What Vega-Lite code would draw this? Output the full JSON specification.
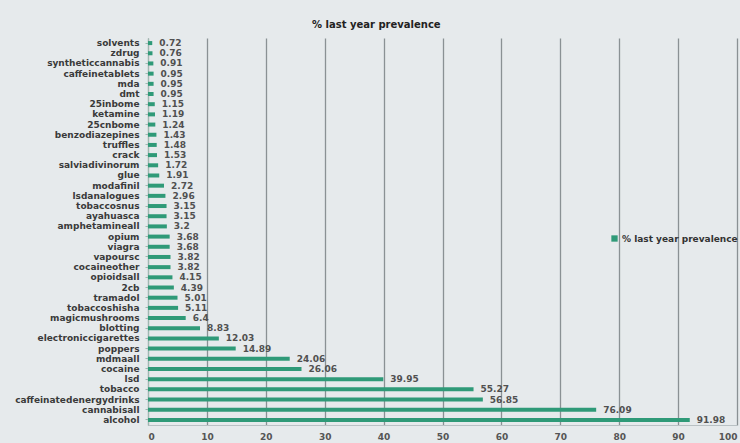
{
  "$schema": "https://vega.github.io/schema/vega-lite/v6.json",
  "width": 589,
  "height": 387,
  "autosize": {"type": "none"},
  "padding": {"left": 148, "top": 38, "right": 3, "bottom": 18},
  "background": "#e6eaec",
  "title": {"text": "% last year prevalence", "frame": "bounds", "anchor": "middle", "fontSize": 10, "font": "DejaVu Sans", "fontWeight": "bold", "color": "#222", "offset": 8},
  "data": {"values": [
    {"drug": "solvents", "value": 0.72},
    {"drug": "zdrug", "value": 0.76},
    {"drug": "syntheticcannabis", "value": 0.91},
    {"drug": "caffeinetablets", "value": 0.95},
    {"drug": "mda", "value": 0.95},
    {"drug": "dmt", "value": 0.95},
    {"drug": "25inbome", "value": 1.15},
    {"drug": "ketamine", "value": 1.19},
    {"drug": "25cnbome", "value": 1.24},
    {"drug": "benzodiazepines", "value": 1.43},
    {"drug": "truffles", "value": 1.48},
    {"drug": "crack", "value": 1.53},
    {"drug": "salviadivinorum", "value": 1.72},
    {"drug": "glue", "value": 1.91},
    {"drug": "modafinil", "value": 2.72},
    {"drug": "lsdanalogues", "value": 2.96},
    {"drug": "tobaccosnus", "value": 3.15},
    {"drug": "ayahuasca", "value": 3.15},
    {"drug": "amphetamineall", "value": 3.2},
    {"drug": "opium", "value": 3.68},
    {"drug": "viagra", "value": 3.68},
    {"drug": "vapoursc", "value": 3.82},
    {"drug": "cocaineother", "value": 3.82},
    {"drug": "opioidsall", "value": 4.15},
    {"drug": "2cb", "value": 4.39},
    {"drug": "tramadol", "value": 5.01},
    {"drug": "tobaccoshisha", "value": 5.11},
    {"drug": "magicmushrooms", "value": 6.4},
    {"drug": "blotting", "value": 8.83},
    {"drug": "electroniccigarettes", "value": 12.03},
    {"drug": "poppers", "value": 14.89},
    {"drug": "mdmaall", "value": 24.06},
    {"drug": "cocaine", "value": 26.06},
    {"drug": "lsd", "value": 39.95},
    {"drug": "tobacco", "value": 55.27},
    {"drug": "caffeinatedenergydrinks", "value": 56.85},
    {"drug": "cannabisall", "value": 76.09},
    {"drug": "alcohol", "value": 91.98}
  ]},
  "encoding": {
    "y": {"field": "drug", "type": "nominal", "sort": null,
      "axis": {"title": null, "labelFont": "DejaVu Sans", "labelFontWeight": "bold", "labelFontSize": 9, "labelColor": "#3a3a3a", "labelPadding": 6, "ticks": true, "tickColor": "#9fb8b0", "tickSize": 3, "domainColor": "#9fb8b0", "grid": false}},
    "x": {"field": "value", "type": "quantitative", "scale": {"domain": [0, 100], "nice": false},
      "axis": {"title": null, "values": [0,10,20,30,40,50,60,70,80,90,100], "labelFont": "DejaVu Sans", "labelFontWeight": "bold", "labelFontSize": 9, "labelColor": "#555", "labelPadding": 7, "ticks": false, "domain": true, "domainColor": "#b9c1c4", "grid": true, "gridColor": "#8a9194", "gridWidth": 1.3}}
  },
  "layer": [
    {"mark": {"type": "bar", "size": 4},
     "encoding": {"color": {"datum": "% last year prevalence", "type": "nominal", "scale": {"range": ["#2f9a78"]},
       "legend": {"title": null, "orient": "none", "legendX": 462, "legendY": 196, "symbolType": "square", "symbolSize": 40, "labelFont": "DejaVu Sans", "labelFontWeight": "bold", "labelFontSize": 9, "labelColor": "#333", "labelOffset": 3}}}},
    {"mark": {"type": "text", "align": "left", "baseline": "middle", "dx": 7, "font": "DejaVu Sans", "fontWeight": "bold", "fontSize": 9, "color": "#505050"},
     "encoding": {"text": {"field": "value", "type": "quantitative"}}}
  ],
  "config": {"view": {"stroke": null}}
}
